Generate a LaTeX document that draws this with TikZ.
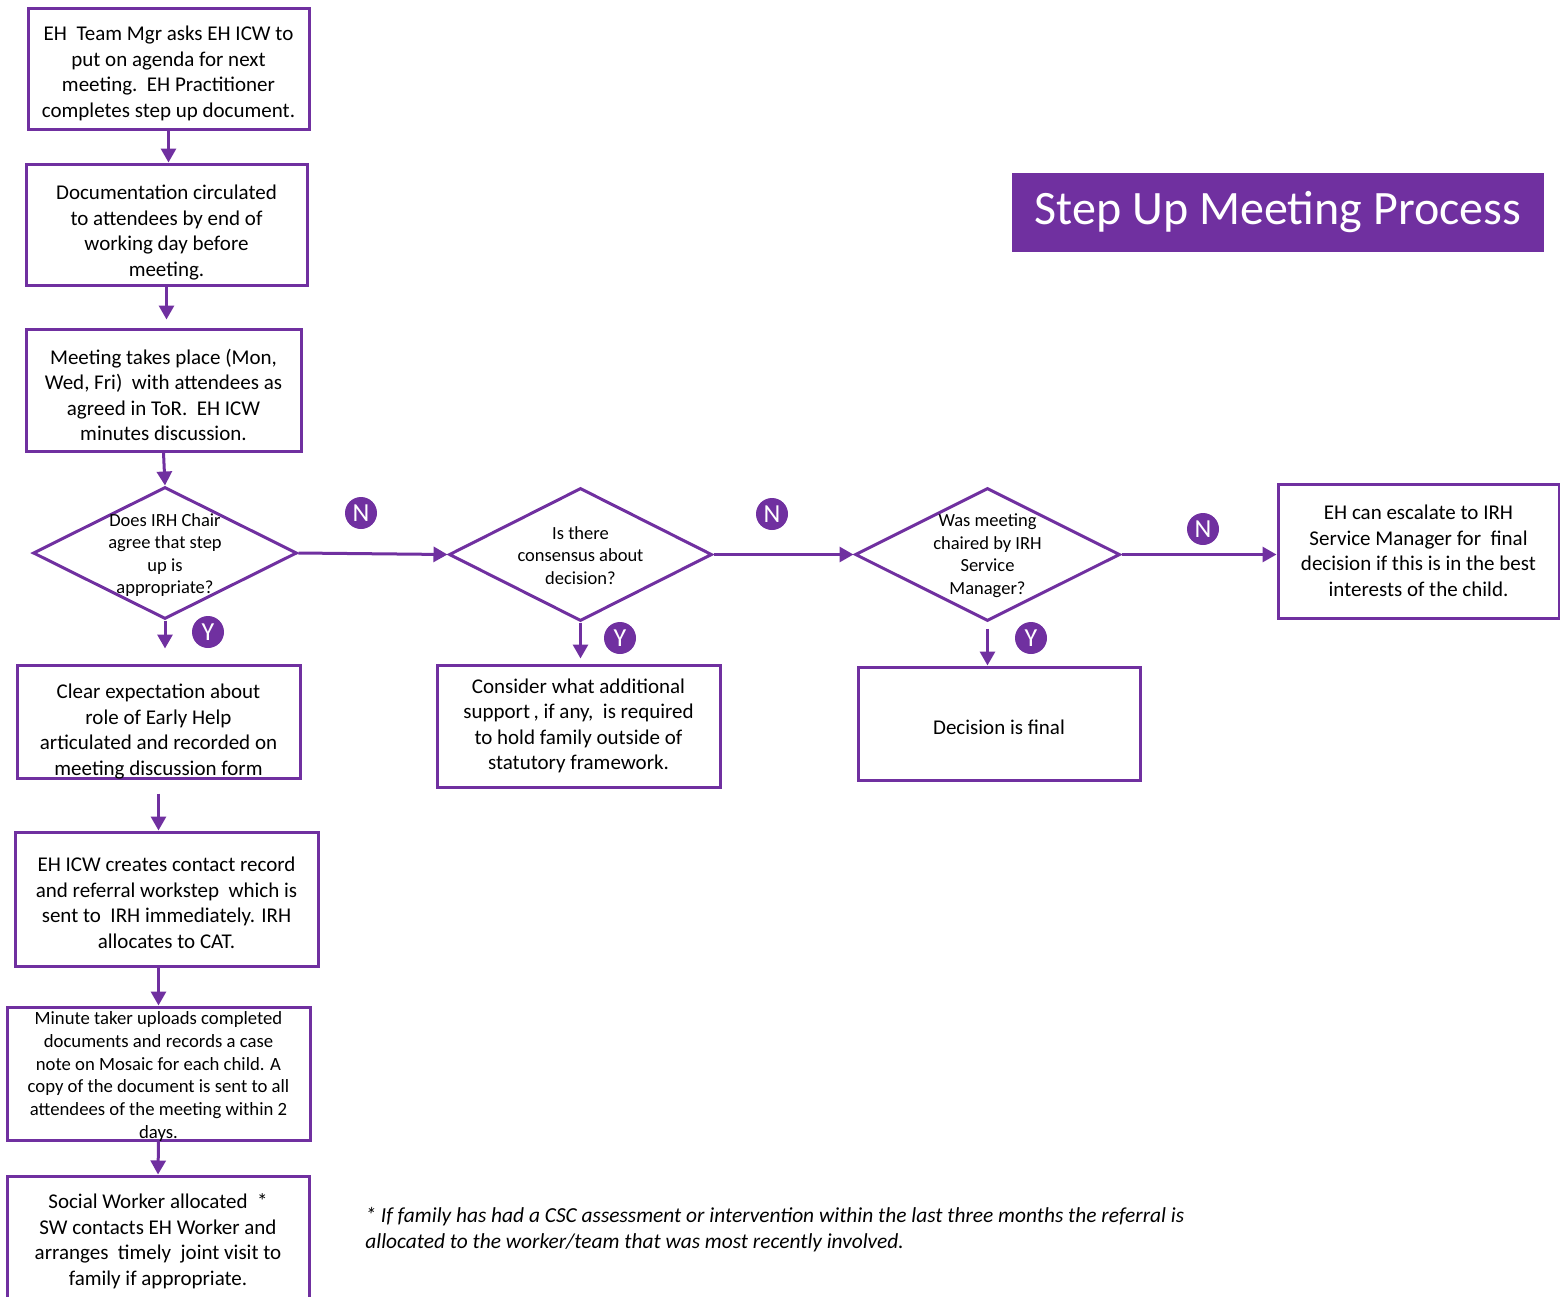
\documentclass[tikz,border=0pt]{standalone}
\usepackage{fontspec}
\setmainfont{Carlito}
\usetikzlibrary{shapes.geometric,arrows.meta}
\definecolor{stepPurple}{HTML}{7030A0}
\tikzset{
	boxtext/.style={align=center, inner sep=0pt, font=\fontsize{10.5}{12.75}\selectfont},
	smalltext/.style={align=center, inner sep=0pt, font=\fontsize{9.35}{11.4}\selectfont},
	stepbox/.style={draw=stepPurple, line width=1.5pt, rectangle, boxtext},
	decision/.style={draw=stepPurple, line width=1.5pt, diamond, inner sep=0pt, minimum width=132pt, minimum height=66pt},
	dtext/.style={align=center, inner sep=0pt, font=\fontsize{9.25}{11.25}\selectfont},
	flow/.style={draw=stepPurple, line width=1.5pt, -{Triangle[length=7pt,width=7.5pt]}},
	answer/.style={circle, fill=stepPurple, text=white, minimum size=16pt, inner sep=0pt, font=\fontsize{13}{13}\selectfont}
}

\begin{document}
\begin{tikzpicture}[x=0.5pt, y=-0.5pt]
		\useasboundingbox (0,0) rectangle (1560,1297);
		
		\node[stepbox, minimum width=140.5pt, minimum height=60.5pt, label={[boxtext, yshift=-2.5pt]center:{EH\ \ Team Mgr asks EH ICW to\\ put on agenda for next\\ meeting.\ \ EH Practitioner\\ completes step up document.}}] (ask) at (168.5,68.5) {};
		\node[stepbox, minimum width=140.5pt, minimum height=60.5pt, label={[boxtext, yshift=-4pt]center:{Documentation circulated\\ to attendees by end of\\ working day before\\ meeting.}}] (docs) at (166.5,224.5) {};
		\node[stepbox, minimum width=137.5pt, minimum height=61pt, label={[boxtext, yshift=-2.5pt]center:{Meeting takes place (Mon,\\ Wed, Fri)\ \ with attendees as\\ agreed in ToR.\ \ EH ICW\\ minutes discussion.}}] (meet) at (163.5,390) {};
		
		\node[decision] (chair) at (165,553) {};
		\node[dtext] (chairq) at (165,555) {Does IRH Chair\\ agree that step\\ up is\\ appropriate?};
		\node[decision, minimum width=131.5pt, minimum height=66.5pt] (consensus) at (580.5,554.5) {};
		\node[dtext] (consensusq) at (580.5,555.5) {Is there\\ consensus about\\ decision?};
		\node[decision, minimum width=132.5pt, minimum height=66.5pt] (chaired) at (987.5,554.5) {};
		\node[dtext] (chairedq) at (987.5,555.5) {Was meeting\\ chaired by IRH\\ Service\\ Manager?};
		
		\node[stepbox, minimum width=140.5pt, minimum height=67pt] (escalate) at (1418.5,551) {EH can escalate to IRH\\ Service Manager for\ \ final\\ decision if this is in the best\\ interests of the child.};
		\node[stepbox, minimum width=141.5pt, minimum height=56.5pt, label={[boxtext, yshift=-5pt]center:{Clear expectation about\\ role of Early Help\\ articulated and recorded on\\ meeting discussion form}}] (clear) at (158.5,721.5) {};
		\node[stepbox, minimum width=141.5pt, minimum height=61pt] (consider) at (578.5,726) {Consider what additional\\ support\,, if any,\ \ is required\\ to hold family outside of\\ statutory framework.};
		\node[stepbox, minimum width=141pt, minimum height=56.5pt, label={[boxtext, yshift=-1.75pt]center:{Decision is final}}] (final) at (999,723.5) {};
		
		\node[stepbox, minimum width=151.5pt, minimum height=67pt, label={[boxtext, yshift=-2pt]center:{EH ICW creates contact record\\ and referral workstep\ \ which is\\ sent to\ \ IRH immediately. IRH\\ allocates to CAT.}}] (icw) at (166.5,899) {};
		\node[stepbox, minimum width=151.5pt, minimum height=66.5pt, label={[smalltext, yshift=-1.5pt]center:{Minute taker uploads completed\\ documents and records a case\\ note on Mosaic for each child. A\\ copy of the document is sent to all\\ attendees of the meeting within 2\\ days.}}] (minute) at (158.5,1073.5) {};
		\node[stepbox, minimum width=151pt, minimum height=62pt, label={[boxtext, yshift=-1.5pt]center:{Social Worker allocated\ \ *\\ SW contacts EH Worker and\\ arranges\ \ timely\ \ joint visit to\\ family if appropriate.}}] (social) at (158,1238) {};
		
		\node[fill=stepPurple, text=white, minimum width=266pt, minimum height=39.5pt, inner sep=0pt, font=\fontsize{24}{24}\selectfont] (title) at (1278,212.5) {Step Up Meeting Process};
		
		\node[anchor=west, align=left, inner sep=0pt, font=\itshape\fontsize{10.7}{13}\selectfont] (note) at (365,1230) {* If family has had a CSC assessment or intervention within the last three months the referral is\\ allocated to the worker/team that was most recently involved.};
		
		\foreach \n/\x/\y/\l in {n1/361/513/N, n2/772/514/N, n3/1203/529/N, y1/208/632/Y, y2/620/638/Y, y3/1031/638/Y}
		{
			\node[answer] (\n) at (\x,\y) {\l};
		}
		
		\draw[flow] (ask.south) -- (ask.south |- docs.north);
		\draw[flow, shorten >=4pt] (docs.south) -- (docs.south |- meet.north);
		\draw[flow] (meet.south) -- (chair.north);
		\draw[flow, shorten >=7.5pt] (chair.south) -- (chair.south |- clear.north);
		\draw[flow] (chair.east) -- (consensus.west);
		\draw[flow] (consensus.east) -- (chaired.west);
		\draw[flow] (chaired.east) -- (chaired.east -| escalate.west);
		\draw[flow, shorten >=2.5pt] (consensus.south) -- (consensus.south |- consider.north);
		\draw[flow, shorten <=3pt] (chaired.south) -- (chaired.south |- final.north);
		\draw[flow, shorten <=7pt] (clear.south) -- (clear.south |- icw.north);
		\draw[flow] (minute.north |- icw.south) -- (minute.north);
		\draw[flow] (minute.south) -- (social.north);
		
	\end{tikzpicture}
\end{document}
